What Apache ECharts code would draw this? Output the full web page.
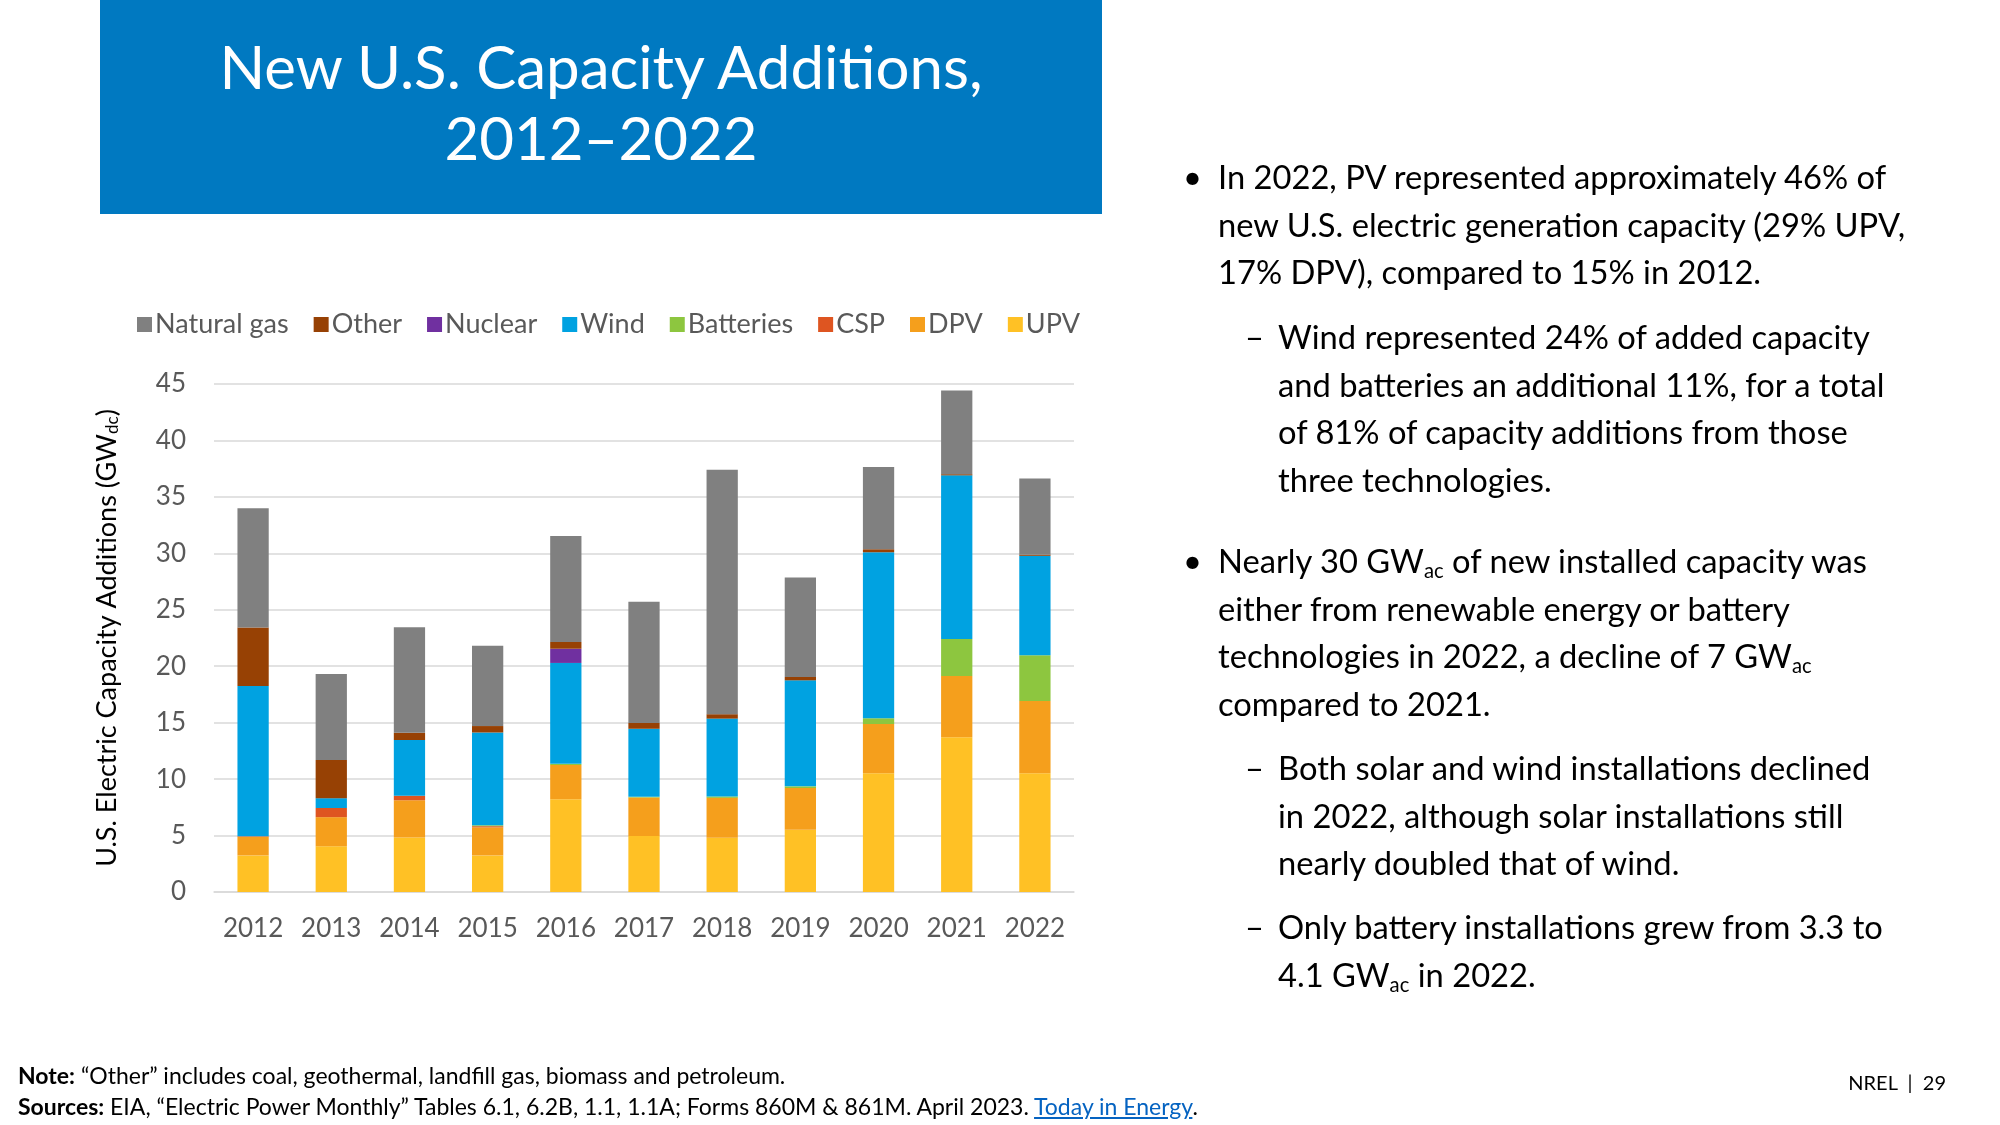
<!DOCTYPE html>
<html>
<head>
<meta charset="utf-8">
<script src="https://cdn.jsdelivr.net/npm/echarts@6/dist/echarts.min.js"></script>
<style>
  html, body { margin: 0; padding: 0; background: #fff; }
  #page { position: relative; width: 2000px; height: 1125px; overflow: hidden; font-family: Lato, "Open Sans", sans-serif; }
  #chart { position: absolute; left: 0; top: 0; width: 2000px; height: 1125px; }
  #titlebox { position: absolute; left: 100px; top: 0; width: 1002px; height: 214px; background: #0079C1; color: #fff;
    font-size: 60px; line-height: 71px; text-align: center; box-sizing: border-box; padding-top: 31px; }
  .blk { position: absolute; color: #000; font-size: 32.7px; line-height: 47.5px; white-space: nowrap; }
  .mark { position: absolute; color: #000; font-size: 32.7px; line-height: 47.5px; }
  sub { font-size: 0.62em; vertical-align: -0.25em; line-height: 0; }
  .note { position: absolute; left: 18px; font-size: 23px; white-space: nowrap; color: #000; line-height: 28px; }
  .note a { color: #0563C1; text-decoration: underline; }
  #pg { position: absolute; right: 54px; top: 1069px; font-size: 20px; line-height: 26px; color: #000; }
</style>
</head>
<body>
<div id="page">
  <div id="chart"></div>
  <div id="titlebox">New U.S. Capacity Additions,<br>2012–2022</div>

  <div class="mark" style="left:1183px; top:153px;">•</div>
  <div class="blk" style="left:1218px; top:153px;">In 2022, PV represented approximately 46% of<br>new U.S. electric generation capacity (29% UPV,<br>17% DPV), compared to 15% in 2012.</div>

  <div class="mark" style="left:1245px; top:313px;">–</div>
  <div class="blk" style="left:1278px; top:313px;">Wind represented 24% of added capacity<br>and batteries an additional 11%, for a total<br>of 81% of capacity additions from those<br>three technologies.</div>

  <div class="mark" style="left:1183px; top:537px;">•</div>
  <div class="blk" style="left:1218px; top:537px;">Nearly 30 GW<sub>ac</sub> of new installed capacity was<br>either from renewable energy or battery<br>technologies in 2022, a decline of 7 GW<sub>ac</sub><br>compared to 2021.</div>

  <div class="mark" style="left:1245px; top:744px;">–</div>
  <div class="blk" style="left:1278px; top:744px;">Both solar and wind installations declined<br>in 2022, although solar installations still<br>nearly doubled that of wind.</div>

  <div class="mark" style="left:1245px; top:903px;">–</div>
  <div class="blk" style="left:1278px; top:903px;">Only battery installations grew from 3.3 to<br>4.1 GW<sub>ac</sub> in 2022.</div>

  <div class="note" style="top:1061px;"><b>Note:</b> “Other” includes coal, geothermal, landfill gas, biomass and petroleum.</div>
  <div class="note" style="top:1092px;"><b>Sources:</b> EIA, “Electric Power Monthly” Tables 6.1, 6.2B, 1.1, 1.1A; Forms 860M &amp; 861M. April 2023. <a>Today in Energy</a>.</div>
  <div id="pg">NREL&nbsp; |&nbsp; 29</div>
</div>
<script>
const years = ['2012','2013','2014','2015','2016','2017','2018','2019','2020','2021','2022'];
const upv       = [3.24, 4.05, 4.83, 3.24, 8.22, 4.95, 4.80, 5.52, 10.53, 13.71, 10.53];
const dpv       = [1.65, 2.58, 3.30, 2.49, 3.03, 3.42, 3.54, 3.69, 4.35, 5.43, 6.39];
const csp       = [0.05, 0.81, 0.39, 0.10, 0.00, 0.00, 0.00, 0.00, 0.00, 0.00, 0.00];
const batteries = [0.00, 0.00, 0.00, 0.08, 0.10, 0.06, 0.12, 0.15, 0.51, 3.27, 4.05];
const wind      = [13.30, 0.87, 4.95, 8.22, 8.94, 6.03, 6.90, 9.39, 14.70, 14.50, 8.81];
const nuclear   = [0.00, 0.00, 0.00, 0.00, 1.26, 0.00, 0.00, 0.00, 0.00, 0.00, 0.00];
const other     = [5.19, 3.39, 0.63, 0.57, 0.60, 0.51, 0.39, 0.30, 0.27, 0.10, 0.10];
const naturalGas= [10.57, 7.62, 9.36, 7.11, 9.39, 10.74, 21.66, 8.82, 7.29, 7.41, 6.75];
const yTicks = [0, 5, 10, 15, 20, 25, 30, 35, 40, 45];

const seriesDefs = [
  { name: 'UPV', data: upv, color: '#FFC125' },
  { name: 'DPV', data: dpv, color: '#F59F1C' },
  { name: 'CSP', data: csp, color: '#DE5521' },
  { name: 'Batteries', data: batteries, color: '#8DC63F' },
  { name: 'Wind', data: wind, color: '#00A2E1' },
  { name: 'Nuclear', data: nuclear, color: '#7030A0' },
  { name: 'Other', data: other, color: '#974104' },
  { name: 'Natural gas', data: naturalGas, color: '#808080' }
];

const chart = echarts.init(document.getElementById('chart'));
chart.setOption({
  animation: false,
  textStyle: { fontFamily: 'Lato, "Open Sans", sans-serif' },
  legend: {
    data: ['Natural gas', 'Other', 'Nuclear', 'Wind', 'Batteries', 'CSP', 'DPV', 'UPV'],
    left: 132, top: 306,
    icon: 'rect', itemWidth: 15, itemHeight: 15, itemGap: 25,
    textStyle: { fontSize: 27, color: '#595959', padding: [0, 0, 0, -2] }
  },
  grid: { left: 214, right: 926, top: 384, bottom: 233, containLabel: false },
  xAxis: {
    type: 'category', data: years,
    axisLine: { lineStyle: { color: '#D9D9D9', width: 1.5 } },
    axisTick: { show: false },
    axisLabel: { fontSize: 26, color: '#595959', margin: 24, interval: 0 }
  },
  yAxis: {
    type: 'value', min: yTicks[0], max: yTicks[yTicks.length - 1], interval: 5,
    axisLine: { show: false }, axisTick: { show: false },
    splitLine: { lineStyle: { color: '#D9D9D9', width: 1.5 } },
    axisLabel: { fontSize: 26, color: '#595959', margin: 28 },
    name: '{m|U.S. Electric Capacity Additions (GW}{s|dc}{m|)}',
    nameLocation: 'middle', nameRotate: 90, nameGap: 93,
    nameTextStyle: {
      rich: {
        m: { fontSize: 27, color: '#000', fontFamily: 'Lato, sans-serif' },
        s: { fontSize: 17, color: '#000', fontFamily: 'Lato, sans-serif', padding: [11, 0, 0, 0] }
      }
    }
  },
  series: seriesDefs.map(s => ({
    name: s.name, type: 'bar', stack: 'total', data: s.data,
    barWidth: '40%', itemStyle: { color: s.color }
  }))
});
</script>
</body>
</html>
